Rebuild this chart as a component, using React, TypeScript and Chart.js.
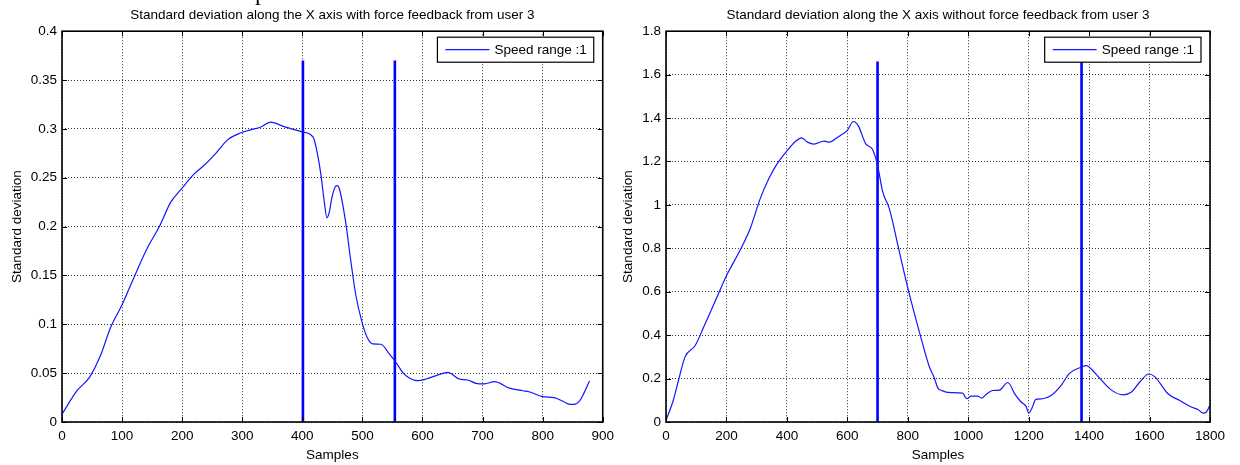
import React, { useEffect, useRef } from 'react';
import { Chart, registerables } from 'chart.js';

Chart.register(...registerables);

const FONT = '"Liberation Sans", Arial, Helvetica, sans-serif';

const LEFT_TITLE = 'Standard deviation along the X axis with force feedback from user 3';
const RIGHT_TITLE = 'Standard deviation along the X axis without force feedback from user 3';
const X_LABEL = 'Samples';
const Y_LABEL = 'Standard deviation';
const LEGEND_LABEL = 'Speed range :1';

// Left chart (with force feedback)
const LEFT_X = [0, 25, 46, 64, 81, 100, 117, 142, 162, 181, 198, 220, 237, 256, 276, 298, 314, 331, 347, 371, 400, 418, 425, 431, 436, 441, 445, 449, 455, 458, 462, 472, 480, 489, 499, 508, 517, 531, 545, 554, 567, 578, 592, 606, 625, 642, 661, 675, 689, 703, 720, 745, 767, 777, 800, 819, 836, 846, 852, 862, 878];
const LEFT_Y = [0.008, 0.032, 0.046, 0.068, 0.097, 0.12, 0.144, 0.178, 0.2, 0.225, 0.238, 0.254, 0.263, 0.275, 0.289, 0.296, 0.299, 0.302, 0.307, 0.302, 0.297, 0.2915, 0.275, 0.253, 0.228, 0.209, 0.215, 0.229, 0.241, 0.242, 0.238, 0.205, 0.168, 0.13, 0.103, 0.0864, 0.08, 0.0796, 0.0694, 0.0627, 0.0508, 0.045, 0.0423, 0.044, 0.048, 0.0508, 0.044, 0.043, 0.0396, 0.039, 0.0413, 0.0346, 0.032, 0.031, 0.026, 0.025, 0.0205, 0.018, 0.018, 0.022, 0.042];
const LEFT_MARKERS = [401, 554];
const LEFT_MARKER_TOP = 0.37;
const LEFT_X_TICKS = [0, 100, 200, 300, 400, 500, 600, 700, 800, 900];
const LEFT_X_TICK_LABELS = ['0', '100', '200', '300', '400', '500', '600', '700', '800', '900'];
const LEFT_Y_TICKS = [0, 0.05, 0.1, 0.15, 0.2, 0.25, 0.3, 0.35, 0.4];
const LEFT_Y_TICK_LABELS = ['0', '0.05', '0.1', '0.15', '0.2', '0.25', '0.3', '0.35', '0.4'];

// Right chart (without force feedback)
const RIGHT_X = [0, 24, 41, 63, 96, 124, 163, 202, 246, 279, 312, 340, 368, 401, 429, 448, 468, 490, 523, 540, 568, 600, 620, 636, 661, 683, 700, 717, 739, 767, 800, 839, 872, 887, 900, 911, 932, 982, 990, 997, 1009, 1031, 1044, 1059, 1081, 1103, 1131, 1155, 1175, 1191, 1200, 1210, 1224, 1246, 1274, 1307, 1335, 1373, 1392, 1407, 1440, 1473, 1512, 1539, 1567, 1597, 1617, 1661, 1700, 1738, 1760, 1777, 1788, 1799];
const RIGHT_Y = [0.008, 0.099, 0.19, 0.3, 0.351, 0.435, 0.557, 0.679, 0.793, 0.892, 1.03, 1.12, 1.19, 1.25, 1.293, 1.309, 1.289, 1.28, 1.294, 1.289, 1.312, 1.343, 1.384, 1.365, 1.281, 1.256, 1.182, 1.06, 0.983, 0.816, 0.618, 0.412, 0.252, 0.206, 0.155, 0.146, 0.136, 0.133, 0.115, 0.108, 0.119, 0.119, 0.11, 0.127, 0.145, 0.147, 0.182, 0.127, 0.092, 0.073, 0.041, 0.061, 0.104, 0.107, 0.122, 0.168, 0.224, 0.252, 0.26, 0.244, 0.194, 0.148, 0.125, 0.137, 0.183, 0.221, 0.209, 0.13, 0.099, 0.069, 0.058, 0.041, 0.046, 0.076];
const RIGHT_MARKERS = [700, 1375];
const RIGHT_MARKER_TOP = 1.66;
const RIGHT_X_TICKS = [0, 200, 400, 600, 800, 1000, 1200, 1400, 1600, 1800];
const RIGHT_X_TICK_LABELS = ['0', '200', '400', '600', '800', '1000', '1200', '1400', '1600', '1800'];
const RIGHT_Y_TICKS = [0, 0.2, 0.4, 0.6, 0.8, 1, 1.2, 1.4, 1.6, 1.8];
const RIGHT_Y_TICK_LABELS = ['0', '0.2', '0.4', '0.6', '0.8', '1', '1.2', '1.4', '1.6', '1.8'];

const framePlugin = {
  id: 'matlabFrame',
  afterDatasetsDraw(chart: any) {
    const { ctx, chartArea: a, scales } = chart;
    ctx.save();
    ctx.strokeStyle = '#000';
    ctx.lineWidth = 1;
    const tl = 5;
    ctx.beginPath();
    scales.x.ticks.forEach((t: any) => {
      const px = Math.round(scales.x.getPixelForValue(t.value)) + 0.5;
      ctx.moveTo(px, a.bottom);
      ctx.lineTo(px, a.bottom - tl);
      ctx.moveTo(px, a.top);
      ctx.lineTo(px, a.top + tl);
    });
    scales.y.ticks.forEach((t: any) => {
      const py = Math.round(scales.y.getPixelForValue(t.value)) + 0.5;
      ctx.moveTo(a.left, py);
      ctx.lineTo(a.left + tl, py);
      ctx.moveTo(a.right, py);
      ctx.lineTo(a.right - tl, py);
    });
    ctx.stroke();
    ctx.lineWidth = 1.6;
    ctx.strokeRect(a.left, a.top, a.right - a.left, a.bottom - a.top);
    ctx.restore();
  },
  afterDraw(chart: any) {
    const { ctx, chartArea: a } = chart;
    const ds = chart.data.datasets[0];
    ctx.save();
    ctx.font = `13.5px ${FONT}`;
    const tw = ctx.measureText(ds.label).width;
    const padL = 8, lineLen = 44, gap = 5, padR = 7, h = 25;
    const w = padL + lineLen + gap + tw + padR;
    const x = a.right - 9 - w;
    const y = a.top + 6;
    ctx.fillStyle = '#fff';
    ctx.fillRect(x, y, w, h);
    ctx.strokeStyle = '#000';
    ctx.lineWidth = 1.2;
    ctx.strokeRect(x, y, w, h);
    const cy = y + h / 2;
    ctx.strokeStyle = ds.borderColor;
    ctx.lineWidth = 1.2;
    ctx.beginPath();
    ctx.moveTo(x + padL, cy);
    ctx.lineTo(x + padL + lineLen, cy);
    ctx.stroke();
    ctx.fillStyle = '#000';
    ctx.textBaseline = 'middle';
    ctx.textAlign = 'left';
    ctx.fillText(ds.label, x + padL + lineLen + gap, cy + 1);
    ctx.restore();
  },
};

type Spec = {
  title: string;
  xs: number[];
  ys: number[];
  markers: number[];
  markerTop: number;
  xTicks: number[];
  xTickLabels: string[];
  yTicks: number[];
  yTickLabels: string[];
  yAxisWidth: number;
  padRight: number;
  yTitlePad: number;
};

function makeConfig(p: Spec): any {
  const font = { family: FONT, size: 13.5, weight: 'normal' as const };
  return {
    type: 'line',
    data: {
      datasets: [
        {
          label: LEGEND_LABEL,
          data: p.xs.map((x, i) => ({ x, y: p.ys[i] })),
          borderColor: '#1414ff',
          borderWidth: 1.2,
          pointRadius: 0,
          cubicInterpolationMode: 'monotone',
          fill: false,
        },
        ...p.markers.map((m) => ({
          label: 'marker',
          data: [
            { x: m, y: 0 },
            { x: m, y: p.markerTop },
          ],
          borderColor: '#0000ff',
          borderWidth: 2.6,
          pointRadius: 0,
          fill: false,
        })),
      ],
    },
    options: {
      responsive: false,
      animation: false,
      devicePixelRatio: 1,
      layout: { padding: { top: 0, right: p.padRight, bottom: 0, left: 0 } },
      plugins: {
        legend: { display: false },
        tooltip: { enabled: false },
        title: {
          display: true,
          fullSize: false,
          text: p.title,
          color: '#000',
          font,
          padding: { top: 7, bottom: 8 },
        },
      },
      scales: {
        x: {
          type: 'linear',
          min: p.xTicks[0],
          max: p.xTicks[p.xTicks.length - 1],
          afterBuildTicks: (s: any) => {
            s.ticks = p.xTicks.map((v) => ({ value: v }));
          },
          afterFit: (s: any) => {
            s.height = 43;
          },
          ticks: {
            autoSkip: false,
            maxRotation: 0,
            color: '#000',
            font,
            padding: 6,
            callback: (_v: any, i: number) => p.xTickLabels[i],
          },
          grid: { color: 'rgba(0,0,0,0.8)', lineWidth: 1, drawTicks: false },
          border: { display: false, dash: [1, 2] },
          title: { display: true, text: X_LABEL, color: '#000', font, padding: { top: 0, bottom: 2 } },
        },
        y: {
          type: 'linear',
          min: p.yTicks[0],
          max: p.yTicks[p.yTicks.length - 1],
          afterBuildTicks: (s: any) => {
            s.ticks = p.yTicks.map((v) => ({ value: v }));
          },
          afterFit: (s: any) => {
            s.width = p.yAxisWidth;
          },
          ticks: {
            autoSkip: false,
            color: '#000',
            font,
            padding: 5,
            callback: (_v: any, i: number) => p.yTickLabels[i],
          },
          grid: { color: 'rgba(0,0,0,0.8)', lineWidth: 1, drawTicks: false },
          border: { display: false, dash: [1, 2] },
          title: { display: true, text: Y_LABEL, color: '#000', font, padding: { top: p.yTitlePad, bottom: 0 } },
        },
      },
    },
    plugins: [framePlugin],
  };
}

function Panel({ spec }: { spec: Spec }) {
  const ref = useRef<HTMLCanvasElement | null>(null);
  useEffect(() => {
    if (!ref.current) return;
    const chart = new Chart(ref.current, makeConfig(spec));
    return () => chart.destroy();
  }, [spec]);
  return <canvas ref={ref} width={620} height={465} style={{ display: 'block', width: 620, height: 465 }} />;
}

const LEFT_SPEC: Spec = {
  title: LEFT_TITLE,
  xs: LEFT_X,
  ys: LEFT_Y,
  markers: LEFT_MARKERS,
  markerTop: LEFT_MARKER_TOP,
  xTicks: LEFT_X_TICKS,
  xTickLabels: LEFT_X_TICK_LABELS,
  yTicks: LEFT_Y_TICKS,
  yTickLabels: LEFT_Y_TICK_LABELS,
  yAxisWidth: 62,
  padRight: 14,
  yTitlePad: 9,
};

const RIGHT_SPEC: Spec = {
  title: RIGHT_TITLE,
  xs: RIGHT_X,
  ys: RIGHT_Y,
  markers: RIGHT_MARKERS,
  markerTop: RIGHT_MARKER_TOP,
  xTicks: RIGHT_X_TICKS,
  xTickLabels: RIGHT_X_TICK_LABELS,
  yTicks: RIGHT_Y_TICKS,
  yTickLabels: RIGHT_Y_TICK_LABELS,
  yAxisWidth: 46,
  padRight: 30,
  yTitlePad: 0.5,
};

export default function App() {
  return (
    <div
      style={{
        position: 'absolute',
        left: 0,
        top: 0,
        width: 1240,
        height: 465,
        overflow: 'hidden',
        background: '#fff',
        display: 'flex',
      }}
    >
      <span
        style={{
          position: 'absolute',
          left: 255,
          top: -20,
          fontFamily: '"Liberation Serif", "Times New Roman", serif',
          fontSize: 24,
          lineHeight: '24px',
          color: '#000',
        }}
      >
        p
      </span>
      <Panel spec={LEFT_SPEC} />
      <Panel spec={RIGHT_SPEC} />
    </div>
  );
}
